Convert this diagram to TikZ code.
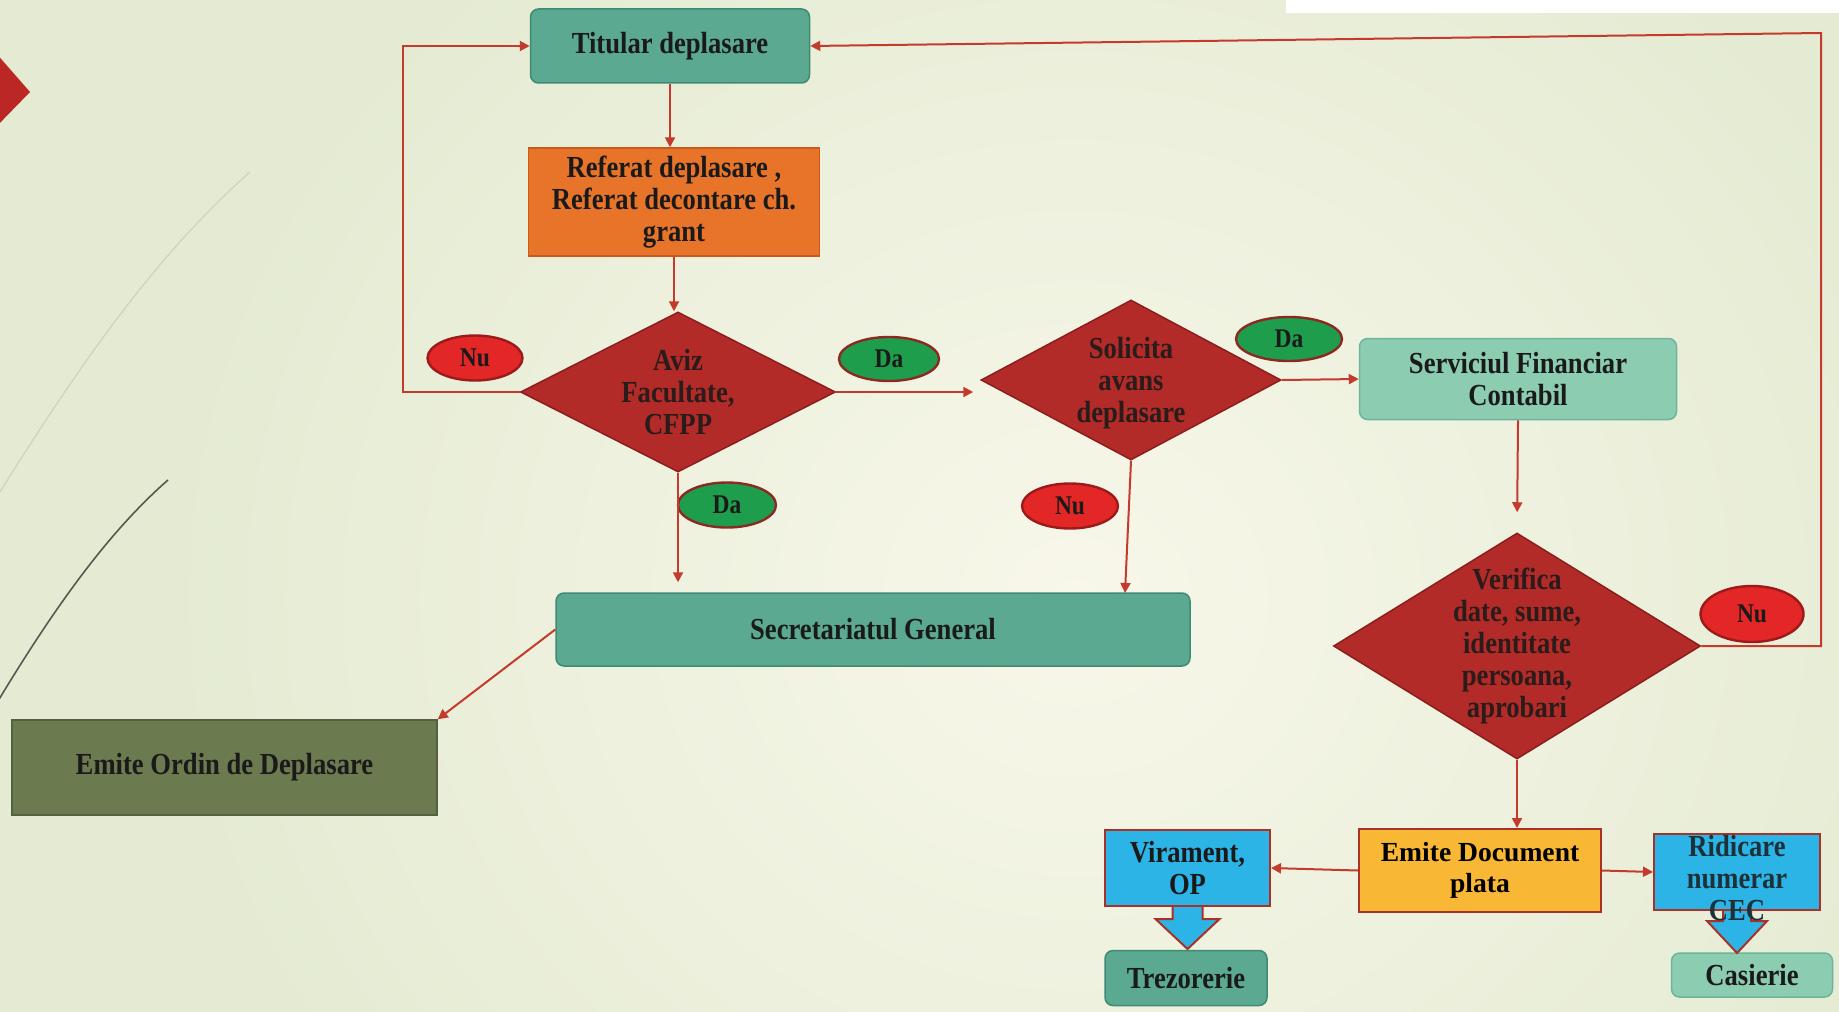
\documentclass[tikz,border=0pt]{standalone}
\usepackage{fontspec}
\setmainfont{Liberation Serif}[FakeStretch=0.87]
\newfontfamily\wideserif{Liberation Serif}
\usetikzlibrary{shapes.geometric,arrows.meta,calc}
\definecolor{bgbase}{HTML}{E4EBD2}
\definecolor{bglight}{HTML}{F8F7EA}
\definecolor{txt}{HTML}{1A1A1A}
\definecolor{teal1}{HTML}{5AA990}
\definecolor{teal1d}{HTML}{3F8A74}
\definecolor{teal2}{HTML}{8CCDB2}
\definecolor{teal2d}{HTML}{6DB59A}
\definecolor{orng}{HTML}{E8742A}
\definecolor{orngd}{HTML}{C85A1C}
\definecolor{diafill}{HTML}{B22B28}
\definecolor{diadraw}{HTML}{8C1D1D}
\definecolor{nufill}{HTML}{E32626}
\definecolor{nudraw}{HTML}{9B1B1B}
\definecolor{dafill}{HTML}{1E9E4C}
\definecolor{dadraw}{HTML}{8B2A22}
\definecolor{bluebox}{HTML}{2CB4E6}
\definecolor{redline}{HTML}{A8322A}
\definecolor{yell}{HTML}{F8B835}
\definecolor{olive}{HTML}{6C7A50}
\definecolor{olived}{HTML}{55613E}
\definecolor{conn}{HTML}{C43A2C}
\definecolor{deco}{HTML}{555A50}
\definecolor{decofaint}{HTML}{CCD4BD}
\newcommand\fmain{\fontsize{15.3}{16}\selectfont}
\newcommand\flab{\fontsize{13.5}{14}\selectfont}
\newcommand\fdoc{\wideserif\fontsize{13.8}{15.5}\selectfont}
\tikzset{
  base/.style={font=\bfseries\fmain, text=txt, align=center, inner sep=0pt, line width=0.75pt},
  tealbox/.style={base, rectangle, rounded corners=4pt, fill=teal1, draw=teal1d},
  ltealbox/.style={base, rectangle, rounded corners=4pt, fill=teal2, draw=teal2d},
  orangebox/.style={base, rectangle, fill=orng, draw=orngd},
  olivebox/.style={base, rectangle, fill=olive, draw=olived},
  bluebx/.style={base, rectangle, fill=bluebox, draw=redline, line width=1pt},
  yellbox/.style={base, rectangle, fill=yell, draw=redline, line width=1pt, font=\bfseries\fdoc, text=black},
  dia/.style={base, diamond, fill=diafill, draw=diadraw},
  dtext/.style={font=\bfseries\fmain, text=txt!90!diafill, align=center, inner sep=0pt},
  nuoval/.style={base, ellipse, fill=nufill, draw=nudraw, line width=1.2pt, font=\bfseries\flab},
  daoval/.style={base, ellipse, fill=dafill, draw=dadraw, line width=1.2pt, font=\bfseries\flab},
  conn/.style={draw=conn, line width=1pt, -{Triangle[length=5pt,width=5pt]}},
  blockarr/.style={fill=bluebox, draw=redline, line width=1pt, line join=miter},
}
\begin{document}
\begin{tikzpicture}[x=0.5pt,y=-0.5pt]
\useasboundingbox (0,0) rectangle (1839,1011);
% background
\fill[bgbase] (-10,-10) rectangle (1850,1025);
\shade[inner color=bglight, outer color=bgbase] (150,-250) rectangle (2000,1450);
\fill[white] (1286,-10) rectangle (1850,13);
\fill[diafill!90!red] (-5,52) -- (30,92) -- (-5,128) -- cycle;
\draw[deco, line width=0.8pt] (-2,701) .. controls (50,615) and (105,535) .. (168,480);
\draw[decofaint, line width=0.6pt] (-2,495) .. controls (70,380) and (150,260) .. (250,172);

% nodes
\node[tealbox, minimum width=139.5pt, minimum height=37pt] (T) at (670,46) {Titular deplasare};
\node[orangebox, minimum width=145.5pt, minimum height=54pt] (R) at (674,202) {Referat deplasare ,\\Referat decontare ch.\\grant};
\node[dia, minimum width=157.5pt, minimum height=80pt] (A) at (678,392) {};
\node[dtext] (At) at (A.center) {Aviz\\Facultate,\\CFPP};
\node[dia, minimum width=150pt, minimum height=80pt] (S) at (1131,380) {};
\node[dtext] (St) at ($(S.center)+(0,3)$) {Solicita\\avans\\deplasare};
\node[ltealbox, minimum width=158.5pt, minimum height=40.5pt] (F) at (1518,379) {Serviciul Financiar\\Contabil};
\node[tealbox, minimum width=317pt, minimum height=36.5pt] (G) at (873,629.5) {Secretariatul General};
\node[olivebox, minimum width=212.5pt, minimum height=47.5pt] (O) at (224.5,767.5) {Emite Ordin de Deplasare};
\node[dia, minimum width=183.5pt, minimum height=113pt] (V) at (1517,646) {};
\node[dtext] (Vt) at (V.center) {Verifica\\date, sume,\\identitate\\persoana,\\aprobari};
\node[yellbox, minimum width=121pt, minimum height=41.5pt] (D) at (1480,870.5) {Emite Document\\plata};
\node[bluebx, minimum width=82.5pt, minimum height=38pt] (P) at (1187.5,868) {Virament,\\OP};
\node[bluebx, minimum width=83pt, minimum height=38pt] (C) at (1737,872) {};
\node[tealbox, minimum width=81pt, minimum height=27.5pt] (Z) at (1186,978) {Trezorerie};
\node[ltealbox, minimum width=80.5pt, minimum height=22pt] (K) at (1752,975) {Casierie};

% labels
\node[nuoval, minimum width=47.5pt, minimum height=22.5pt] (n1) at (475,358) {Nu};
\node[daoval, minimum width=50pt, minimum height=22pt] (d1) at (889,359) {Da};
\node[daoval, minimum width=53pt, minimum height=22pt] (d2) at (1289,339) {Da};
\node[daoval, minimum width=49pt, minimum height=22.5pt] (d3) at (727,505) {Da};
\node[nuoval, minimum width=48pt, minimum height=22.5pt] (n2) at (1070,506) {Nu};
\node[nuoval, minimum width=51.5pt, minimum height=28pt] (n3) at (1752,614) {Nu};

% helper coordinates
\coordinate (lpN) at (403,46);
\coordinate (gIn) at (1125,593);
\coordinate (rB) at (1821,646);
\coordinate (rT) at (1821,33);

% connectors
\draw[conn] (T.south) -- (T.south |- R.north);
\draw[conn] (R.south) -- (R.south |- A.north);
\draw[conn] (A.west) -| (lpN) -- (T.west);
\draw[conn, shorten >=3.5pt] (A.east) -- (A.east -| S.west);
\draw[conn] (S.east) -- (F.west);
\draw[conn, shorten >=5pt] (A.south) -- (A.south |- G.north);
\draw[conn] (S.south) -- (gIn);
\draw[conn] (G.west) -- (O.north east);
\draw[conn, shorten >=10pt] (F.south) -- (V.north);
\draw[conn] (V.south) -- (V.south |- D.north);
\draw[conn] (V.east) -- (rB) -- (rT) -- (T.east);
\draw[conn] (D.west) -- (P.east);
\draw[conn] (D.east) -- (C.west);

% block arrows
\draw[blockarr] ($(P.south)+(-15,0)$) -- ++(0,12) -- ++(-17,0) -- ($(P.south)+(0,42)$) -- ($(P.south)+(32,12)$) -- ++(-17,0) -- ($(P.south)+(15,0)$);
\draw[blockarr] ($(C.south)+(-14,0)$) -- ++(0,10) -- ++(-16,0) -- ($(C.south)+(0,42)$) -- ($(C.south)+(30,10)$) -- ++(-16,0) -- ($(C.south)+(14,0)$);
\node[dtext, text=txt!85!bluebox] (Ct) at ($(C.center)+(0,6)$) {Ridicare\\numerar\\CEC};
\end{tikzpicture}
\end{document}
